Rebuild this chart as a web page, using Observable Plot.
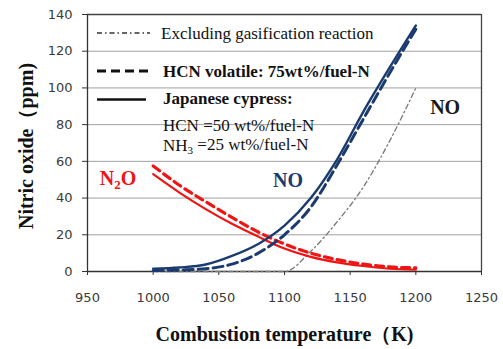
<!DOCTYPE html>
<html><head><meta charset="utf-8">
<script src="https://cdn.jsdelivr.net/npm/d3@7"></script>
<script src="https://cdn.jsdelivr.net/npm/@observablehq/plot@0.6"></script>
<style>html,body{margin:0;padding:0;background:#fff;}</style>
</head><body><div id="chart"></div>
<script>
// Combustion temperature (K)
const temps = [1000, 1020, 1040, 1060, 1080, 1100, 1120, 1140, 1160, 1180, 1200];
// NO (ppm)
const noCypress = [1.5, 2.2, 3.8, 8.5, 15, 25, 40, 61, 87, 111, 134];
const noHcn75   = [0.5, 0.8, 1.5, 4, 10, 20, 35, 58, 83, 108, 132];
const noExclGas = [0, 0, 0, 0, 0, 0, 11, 27, 46, 71, 100];
// N2O (ppm)
const n2oCypress = [53, 43, 34, 26, 19, 12.5, 8, 5, 3, 1.5, 1];
const n2oHcn75   = [57.5, 47, 38, 29.5, 21.5, 15, 10, 6.5, 4, 2.5, 2];
// axes
const xTicks = [950, 1000, 1050, 1100, 1150, 1200, 1250];
const yTicks = [0, 20, 40, 60, 80, 100, 120, 140];
const xTitle = "Combustion temperature（K)";
const yTitle = "Nitric oxide（ppm)";
// legend text
const legendLines = ["Excluding gasification reaction", "HCN volatile: 75wt%/fuel-N", "Japanese cypress:", "HCN =50 wt%/fuel-N", "NH3 =25 wt%/fuel-N"];
// annotations [label, T, ppm]
const annoLabels = ["N2O", "NO", "NO"];
const annoT = [973.6, 1103, 1222.7];
const annoV = [50.5, 49.5, 89.3];

const NAVY = "#1b3b6f", RED = "#f01414";
const rows = (ys) => temps.map((t, i) => ({t, v: ys[i]}));
const serif = "'Liberation Serif', 'Times New Roman', serif";

const chart = Plot.plot({
  width: 503, height: 349,
  marginLeft: 87, marginRight: 22, marginTop: 14, marginBottom: 78,
  x: {domain: [950, 1250]},
  y: {domain: [0, 140]},
  style: {fontFamily: "'DejaVu Sans', sans-serif", fontSize: "13px", color: "#3a3a3a", background: "#fff", overflow: "visible"},
  marks: [
    Plot.gridY(yTicks.filter(v => v > 0 && v < 140), {stroke: "#a0a0a0", strokeOpacity: 1}),
    Plot.ruleY([140], {stroke: "#444", strokeWidth: 1.3}),
    Plot.ruleX([1250], {stroke: "#444", strokeWidth: 1.3}),
    Plot.ruleX([950], {stroke: "#333", strokeWidth: 1.3}),
    Plot.ruleY([0], {stroke: "#333", strokeWidth: 1.5}),
    Plot.axisX({ticks: xTicks, tickSize: 4, tickPadding: 17, label: null, tickFormat: d => String(d), stroke: "#333"}),
    Plot.axisY({ticks: yTicks, tickSize: 5, tickPadding: 10, label: null, stroke: "#333"}),
    Plot.line(rows(noExclGas), {x: "t", y: "v", stroke: "#777", strokeWidth: 1.3, strokeDasharray: "5,3,1.5,3", curve: "monotone-x"}),
    Plot.line(rows(n2oHcn75), {x: "t", y: "v", stroke: RED, strokeWidth: 3.2, strokeDasharray: "8,5", curve: "monotone-x"}),
    Plot.line(rows(n2oCypress), {x: "t", y: "v", stroke: RED, strokeWidth: 2.2, curve: "monotone-x"}),
    Plot.line(rows(noHcn75), {x: "t", y: "v", stroke: NAVY, strokeWidth: 3, strokeDasharray: "10,5", curve: "monotone-x"}),
    Plot.line(rows(noCypress), {x: "t", y: "v", stroke: NAVY, strokeWidth: 2.4, curve: "monotone-x"}),
    Plot.text([xTitle], {frameAnchor: "bottom", textAnchor: "middle", dy: 69.5, lineAnchor: "bottom", fontFamily: serif, fontWeight: "bold", fontSize: 20, fill: "#111"}),
    Plot.text([yTitle], {frameAnchor: "left", textAnchor: "middle", rotate: -90, dx: -55, dy: 3, lineAnchor: "bottom", fontFamily: serif, fontWeight: "bold", fontSize: 20, fill: "#111"})
  ]
});
document.getElementById("chart").appendChild(chart);

const svg = d3.select(chart);
const sx = chart.scale("x"), sy = chart.scale("y");

// annotations
const anno = svg.append("g").attr("font-family", serif).attr("font-weight", "bold").attr("font-size", 20).attr("text-anchor", "middle");
const annoColors = [RED, NAVY, "#1a1a1a"];
annoLabels.forEach((lab, i) => {
  const t = anno.append("text").attr("x", sx.apply(annoT[i])).attr("y", sy.apply(annoV[i])).attr("dy", "0.34em").attr("fill", annoColors[i]);
  if (lab === "N2O") {
    t.append("tspan").text("N");
    t.append("tspan").attr("font-size", 13).attr("dy", "0.3em").text("2");
    t.append("tspan").attr("dy", "-0.2em").text("O");
  } else t.text(lab);
});

// legend
const lg = svg.append("g").attr("font-family", serif).attr("font-size", 17).attr("fill", "#111").attr("text-anchor", "start");
lg.append("line").attr("x1", 97).attr("x2", 150).attr("y1", 33).attr("y2", 33).attr("stroke", "#333").attr("stroke-width", 1.4).attr("stroke-dasharray", "5,3,1.5,3");
lg.append("line").attr("x1", 97).attr("x2", 152).attr("y1", 71).attr("y2", 71).attr("stroke", "#111").attr("stroke-width", 3).attr("stroke-dasharray", "9,5");
lg.append("line").attr("x1", 97).attr("x2", 146).attr("y1", 99.5).attr("y2", 99.5).attr("stroke", "#111").attr("stroke-width", 2.4);
lg.append("text").attr("x", 161).attr("y", 38.5).text(legendLines[0]);
lg.append("text").attr("x", 163).attr("y", 76.5).attr("font-weight", "bold").text(legendLines[1]);
lg.append("text").attr("x", 163).attr("y", 104).attr("font-weight", "bold").text(legendLines[2]);
lg.append("text").attr("x", 163).attr("y", 130.5).text(legendLines[3]);
const nh = lg.append("text").attr("x", 163).attr("y", 151);
const parts = legendLines[4].match(/^(NH)(3)(.*)$/);
nh.append("tspan").text(parts[1]);
nh.append("tspan").attr("font-size", 11).attr("dy", "0.25em").text(parts[2]);
nh.append("tspan").attr("dy", "-0.25em").text(parts[3]);
</script>
</body></html>
